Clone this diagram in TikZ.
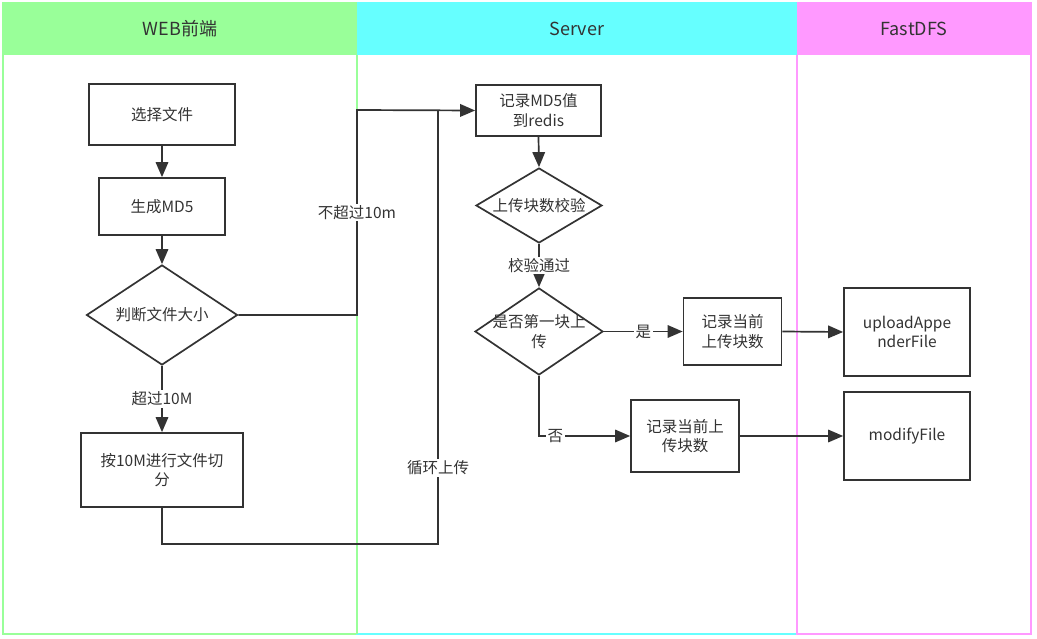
\documentclass[tikz,border=0pt]{standalone}
\usepackage{fontspec}
\setmainfont{Noto Sans CJK SC}
\usetikzlibrary{shapes.geometric,arrows.meta}
\definecolor{ink}{HTML}{333333}
\definecolor{lgreen}{HTML}{99FF99}
\definecolor{lcyan}{HTML}{66FFFF}
\definecolor{lpink}{HTML}{FF99FF}
\tikzset{
  boxnode/.style={draw=ink, line width=1.7pt, fill=white, text=ink, align=center, inner sep=2pt,
    font=\fontsize{15.5}{19.5}\selectfont},
  decnode/.style={shape=diamond, draw=ink, line width=1.7pt, fill=white, inner sep=0pt},
  dectext/.style={text=ink, align=center, inner sep=0pt, font=\fontsize{15.5}{19.5}\selectfont},
  conn/.style={draw=ink, line width=1.7pt},
  arr/.style={conn, -{Triangle[length=15pt,width=12.5pt]}},
  lbl/.style={fill=white, text=ink, inner sep=1.5pt, font=\fontsize{15.5}{19.5}\selectfont},
  hdr/.style={text=ink, font=\fontsize{18}{22}\selectfont},
}
\begin{document}
\begin{tikzpicture}[x=1pt,y=-1pt]
\useasboundingbox (0,0) rectangle (1037,639);
% lanes
\draw[lgreen, line width=2pt] (3,3) rectangle (357,634);
\draw[lcyan, line width=2pt] (357,3) rectangle (797,634);
\draw[lpink, line width=2pt] (797,3) rectangle (1031,634);
\fill[lgreen] (2,2) rectangle (357,55);
\fill[lcyan] (357,2) rectangle (797,55);
\fill[lpink] (797,2) rectangle (1032,55);
\draw[lgreen, line width=2pt] (357,55) -- (357,634);
\node[hdr] (h1) at (180,29) {WEB前端};
\node[hdr] (h2) at (577,29) {Server};
\node[hdr] (h3) at (914,29) {FastDFS};
% nodes
\node[boxnode, minimum width=146pt, minimum height=61pt] (sel) at (162,114.5) {选择文件};
\node[boxnode, minimum width=126pt, minimum height=57pt] (gen) at (162,206.5) {生成MD5};
\node[decnode, minimum width=151pt, minimum height=100pt] (judge) at (162,315) {};
\node[dectext] (judget) at (judge.center) {判断文件大小};
\node[boxnode, minimum width=162pt, minimum height=74pt] (split) at (162,470) {按10M进行文件切\\分};
\node[boxnode, minimum width=125pt, minimum height=51pt] (md5) at (538.5,110.5) {记录MD5值\\到redis};
\node[decnode, minimum width=126pt, minimum height=75pt] (check) at (539,205.5) {};
\node[dectext] (checkt) at (check.center) {上传块数校验};
\node[decnode, minimum width=128pt, minimum height=87pt] (first) at (539,331.5) {};
\node[dectext] (firstt) at (first.center) {是否第一块上\\传};
\node[boxnode, minimum width=98pt, minimum height=67pt] (rec1) at (732.5,331.5) {记录当前\\上传块数};
\node[boxnode, minimum width=108pt, minimum height=72pt] (rec2) at (685,436) {记录当前上\\传块数};
\node[boxnode, minimum width=126pt, minimum height=88pt] (upl) at (907,332) {uploadAppe\\nderFile};
\node[boxnode, minimum width=126pt, minimum height=88pt] (mod) at (907,436) {modifyFile};
% helper coordinates
\coordinate (t1) at (357,110);
\coordinate (lc) at (438,544);
\coordinate (lj) at (438,110);
% connectors
\draw[arr] (sel) -- (gen);
\draw[arr] (gen) -- (judge);
\draw[arr] (judge.south) -- node[lbl]{超过10M} (split.north);
\draw[arr] (judge.east) -| node[lbl, pos=0.75]{不超过10m} (t1) -- (md5.west);
\draw[conn] (split.south) |- (lc) -- node[lbl, pos=0.175]{循环上传} (lj);
\draw[arr] (md5.south) -- (check.north);
\draw[arr] (check.south) -- node[lbl]{校验通过} (first.north);
\draw[arr] (first.east) -- node[lbl]{是} (rec1.west);
\draw[arr] (first.south) |- node[lbl, pos=0.59]{否} (rec2.west);
\draw[arr] (rec1.east) -- (upl.west);
\draw[arr] (rec2.east) -- (mod.west);
\end{tikzpicture}
\end{document}
